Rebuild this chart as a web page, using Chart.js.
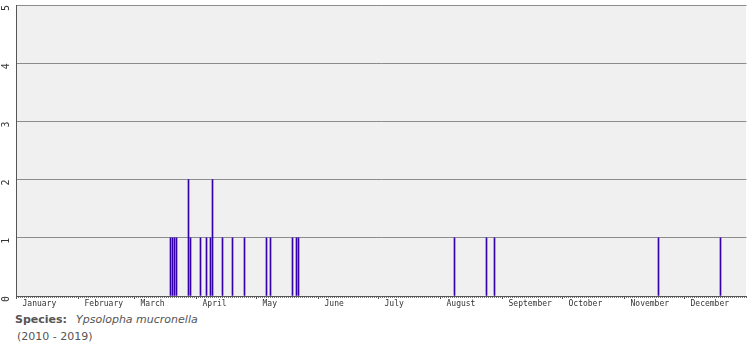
<!DOCTYPE html>
<html>
<head>
<meta charset="utf-8">
<script src="https://cdn.jsdelivr.net/npm/chart.js@4/dist/chart.umd.min.js"></script>
<style>
  html, body { margin: 0; padding: 0; background: #fff; }
  #wrap { position: relative; width: 755px; height: 350px; }
  #chart { position: absolute; left: 0; top: 0; }
  #caption {
    position: absolute; left: 15px; top: 311px;
    font: 11px "DejaVu Sans", Verdana, sans-serif; line-height: 17px; color: #555;
  }
  #caption b { margin-right: 9px; }
  #caption .years { padding-left: 2px; }
</style>
</head>
<body>
<div id="wrap">
  <canvas id="chart" width="755" height="310"></canvas>
  <div id="caption">
    <div><b>Species:</b><i>Ypsolopha mucronella</i></div>
    <div class="years">(2010 - 2019)</div>
  </div>
</div>
<script>
// Records per day of year (0-based day index), all years 2010-2019 together
const obsDays   = [77, 78, 79, 80, 86, 87, 92, 95, 97, 98, 103, 108, 114, 125, 127, 138, 140, 141, 219, 235, 239, 321, 352];
const obsCounts = [1,  1,  1,  1,  2,  1,  1,  1,  1,  2,  1,   1,   1,   1,   1,   1,   1,   1,   1,   1,   1,   1,   1];

const monthNames  = ["January", "February", "March", "April", "May", "June",
                     "July", "August", "September", "October", "November", "December"];
const monthStarts = [0, 31, 59, 90, 120, 151, 181, 212, 243, 273, 304, 334];
const yearDays = 365;
const yTicks = [0, 1, 2, 3, 4, 5];

const tickFont = { family: "'DejaVu Sans Mono', 'Liberation Mono', monospace", size: 8 };

// grey plot background
const plotBg = {
  id: "plotBg",
  beforeDraw(chart) {
    const a = chart.chartArea, c = chart.ctx;
    c.save();
    c.fillStyle = "#f0f0f0";
    c.fillRect(Math.floor(a.left), Math.floor(a.top), Math.ceil(a.right - a.left), Math.ceil(a.bottom - a.top));
    c.restore();
  }
};

new Chart(document.getElementById("chart"), {
  type: "bar",
  data: {
    datasets: [{
      data: obsDays.map((d, i) => ({ x: d, y: obsCounts[i] })),
      backgroundColor: "#3300aa",
      barThickness: 1,
      borderWidth: 0,
    }]
  },
  options: {
    responsive: false, animation: false,
    devicePixelRatio: 1,
    layout: { padding: { top: 5, right: 8.5, left: 0, bottom: 0 } },
    plugins: { legend: { display: false }, tooltip: { enabled: false } },
    scales: {
      // daily dotted ticks under the axis line
      x: {
        type: "linear", position: "bottom", min: 0, max: yearDays,
        offset: false,
        afterFit: s => { s.height = 0; s.paddingLeft = 0; s.paddingRight = 0; },
        ticks: { display: false, stepSize: 1, autoSkip: false },
        grid: { offset: false, drawOnChartArea: false, tickLength: 2, color: "#777" },
        border: { color: "#555" }
      },
      // month ticks + labels
      xm: {
        type: "linear", position: "bottom", min: 0, max: yearDays,
        offset: false,
        afterFit: s => { s.height = 14; s.paddingLeft = 0; s.paddingRight = 0; },
        afterBuildTicks: s => { s.ticks = monthStarts.map(v => ({ value: v })); },
        ticks: {
          autoSkip: false, maxRotation: 0, minRotation: 0,
          align: "start", labelOffset: 6, padding: 0,
          color: "#333", font: tickFont,
          callback: v => monthNames[monthStarts.indexOf(v)] || ""
        },
        grid: { offset: false, drawOnChartArea: false, tickLength: 3, color: "#555" },
        border: { display: false }
      },
      y: {
        min: 0, max: 5,
        afterFit: s => { s.width = 16.5; s.paddingTop = 0; s.paddingBottom = 0; },
        afterBuildTicks: s => { s.ticks = yTicks.map(v => ({ value: v })); },
        ticks: {
          minRotation: 90, maxRotation: 90, padding: 10,
          color: "#333", font: { ...tickFont, size: 10 }
        },
        grid: { color: "#8c8c8c", drawTicks: false },
        border: { color: "#555" }
      }
    }
  },
  plugins: [plotBg]
});
</script>
</body>
</html>
